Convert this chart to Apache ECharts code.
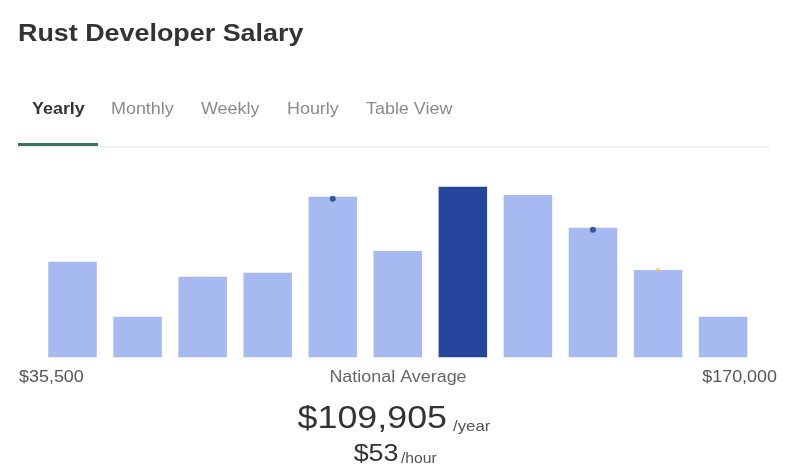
<!DOCTYPE html>
<html>
<head>
<meta charset="utf-8">
<script src="https://cdn.jsdelivr.net/npm/echarts@6/dist/echarts.min.js"></script>
<style>html,body{margin:0;padding:0;background:#fff}#c{width:800px;height:474px}</style>
</head>
<body>
<div id="c"></div>
<script>
const categories = ['b1','b2','b3','b4','b5','b6','b7','b8','b9','b10','b11'];
const counts = [95.6, 40.6, 80.6, 84.6, 160.6, 106.3, 170.6, 162.3, 129.6, 87.3, 40.6];
const highlightIndex = 6;
const navyMarkers = [[4, 160.6], [8, 129.6]];
const yellowMarkers = [[9, 87.3]];
const tabs = ['Yearly', 'Monthly', 'Weekly', 'Hourly', 'Table View'];
const tabX = [32, 111, 201, 287, 366];
const minLabel = '$35,500';
const maxLabel = '$170,000';
const avgLabel = 'National Average';
const avgYear = '$109,905';
const avgHour = '$53';

const FONT = '"Liberation Sans", Arial, sans-serif';
const SX = 1.12;
const chart = echarts.init(document.getElementById('c'), null, {renderer: 'canvas'});

function txt(x, y, text, font, fill, align) {
  return {type: 'text', x: x, y: y, scaleX: SX, scaleY: 1,
    style: {text: text, font: font, fill: fill, textAlign: align || 'left', textVerticalAlign: 'middle'}};
}

const graphics = [
  txt(18, 34.5, 'Rust Developer Salary', 'bold 24px ' + FONT, '#333'),
  {type: 'rect', shape: {x: 18, y: 146, width: 752, height: 1.5}, style: {fill: '#ececec'}},
  {type: 'rect', shape: {x: 18, y: 143, width: 80, height: 3}, style: {fill: '#38705f'}},
  txt(19, 378, minLabel, '16px ' + FONT, '#555'),
  txt(398, 378, avgLabel, '16px ' + FONT, '#666', 'center'),
  txt(777, 378, maxLabel, '16px ' + FONT, '#555', 'right'),
  txt(447, 419, avgYear, '32px ' + FONT, '#333', 'right'),
  txt(453, 426.5, '/year', '15px ' + FONT, '#555'),
  txt(398.5, 454, avgHour, '24px ' + FONT, '#333', 'right'),
  txt(401, 459, '/hour', '14px ' + FONT, '#555')
];
tabs.forEach((t, i) => {
  graphics.push(txt(tabX[i], 109.6, t, (i === 0 ? 'bold ' : '') + '16px ' + FONT, i === 0 ? '#333' : '#8a8a8a'));
});

chart.setOption({
  animation: false,
  backgroundColor: '#fff',
  graphic: graphics,
  grid: {left: 40, right: 44.4, top: 157.3, bottom: 116.7, containLabel: false},
  xAxis: {type: 'category', data: categories, show: false, boundaryGap: true},
  yAxis: {type: 'value', min: 0, max: 200, show: false},
  series: [
    {
      type: 'bar',
      barWidth: 48.5,
      data: counts.map((v, i) => ({value: v, itemStyle: {color: i === highlightIndex ? '#25449c' : '#a6b9f0'}})),
      silent: true
    },
    {
      type: 'scatter',
      data: navyMarkers,
      symbolSize: 6,
      symbolOffset: [0, 2],
      itemStyle: {color: '#1f3d86'},
      z: 5
    },
    {
      type: 'scatter',
      data: yellowMarkers,
      symbolSize: 4,
      itemStyle: {color: '#e5c45a'},
      z: 5
    }
  ]
});
</script>
</body>
</html>
